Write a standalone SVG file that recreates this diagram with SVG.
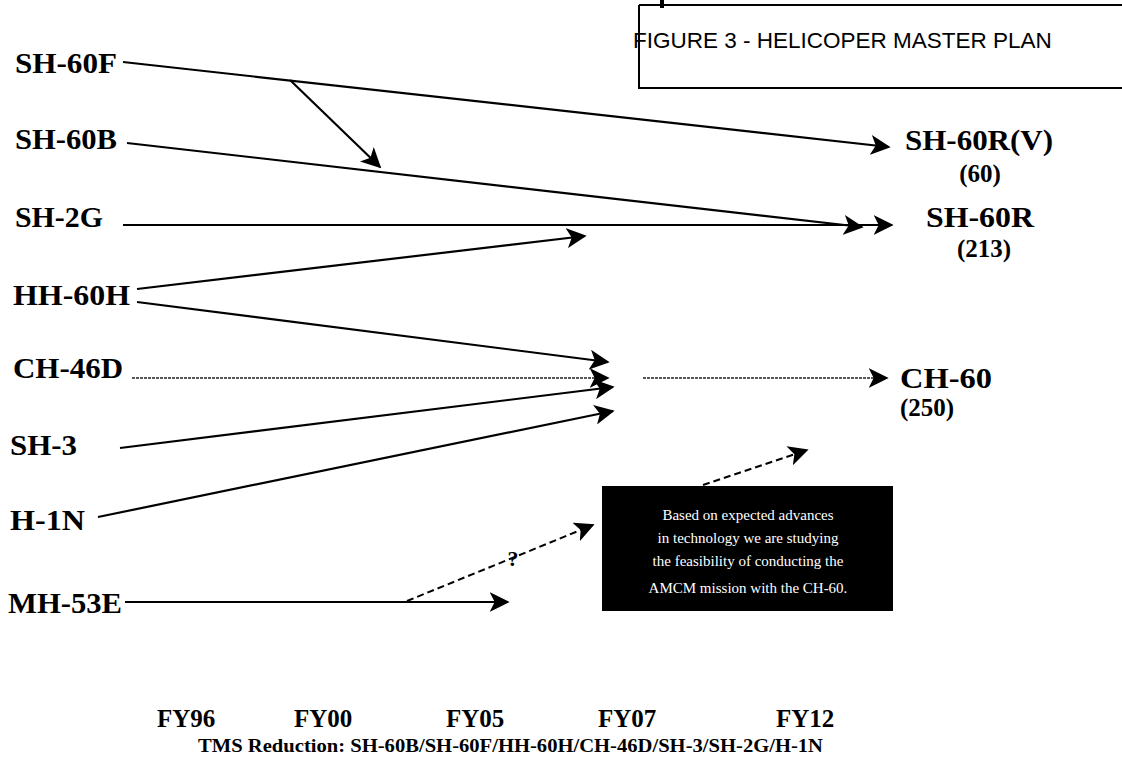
<svg xmlns="http://www.w3.org/2000/svg" width="1122" height="757" viewBox="0 0 1122 757">
<defs>
<style>
.lbl{font-family:"Liberation Serif","Times New Roman",serif;font-weight:bold;font-size:29px;fill:#000}
.sub{font-family:"Liberation Serif","Times New Roman",serif;font-weight:bold;font-size:25px;fill:#000}
.fy{font-family:"Liberation Serif","Times New Roman",serif;font-weight:bold;font-size:25px;fill:#000}
.note{font-family:"Liberation Serif","Times New Roman",serif;font-size:15px;fill:#fff}
.title{font-family:"Liberation Sans",Arial,sans-serif;font-size:22.5px;fill:#000}
.ln{stroke:#000;stroke-width:2.2;fill:none}
.thin{stroke:#222;stroke-width:1.3;fill:none;stroke-dasharray:3 1}
.dash{stroke:#000;stroke-width:2;fill:none;stroke-dasharray:7 4}
</style>
<marker id="ah" viewBox="0 0 12 12" refX="11" refY="6" markerWidth="20" markerHeight="20" markerUnits="userSpaceOnUse" orient="auto">
<path d="M0,0 L12,6 L0,12 L3,6 Z" fill="#000"/>
</marker>
</defs>
<rect width="1122" height="757" fill="#fff"/>

<g id="title">
<path d="M639,5 H1122 M639,5 V88 H1122" stroke="#000" stroke-width="2" fill="none"/>
<path d="M662,0 V8" stroke="#000" stroke-width="4"/>
<text class="title" x="633" y="48">FIGURE 3 - HELICOPER MASTER PLAN</text>
</g>

<g id="connectors">
<path class="ln" d="M123,62 L889,147" marker-end="url(#ah)"/>
<path class="ln" d="M290,80 L380,167" marker-end="url(#ah)"/>
<path class="ln" d="M127,143 L862,227" marker-end="url(#ah)"/>
<path class="ln" d="M123,225 L892,225" marker-end="url(#ah)"/>
<path class="ln" d="M137,289 L585,236" marker-end="url(#ah)"/>
<path class="ln" d="M137,302 L608,362" marker-end="url(#ah)"/>
<path class="thin" d="M132,378 L608,378" marker-end="url(#ah)"/>
<path class="ln" d="M120,448 L613,387" marker-end="url(#ah)"/>
<path class="ln" d="M98,517 L613,411" marker-end="url(#ah)"/>
<path class="thin" d="M643,378 L887,378" marker-end="url(#ah)"/>
<path class="ln" d="M125,602 L508,602" marker-end="url(#ah)"/>
<path class="dash" d="M407,601 L593,525" marker-end="url(#ah)"/>
<path class="dash" d="M703,485 L807,450" marker-end="url(#ah)"/>
<text x="513" y="566" font-family="Liberation Serif,serif" font-weight="bold" font-size="22" text-anchor="middle">?</text>
</g>

<g id="n-sh60f"><text class="lbl" x="15" y="73" textLength="102" lengthAdjust="spacingAndGlyphs">SH-60F</text></g>
<g id="n-sh60b"><text class="lbl" x="15" y="149" textLength="102" lengthAdjust="spacingAndGlyphs">SH-60B</text></g>
<g id="n-sh2g"><text class="lbl" x="15" y="227" textLength="88" lengthAdjust="spacingAndGlyphs">SH-2G</text></g>
<g id="n-hh60h"><text class="lbl" x="13" y="305" textLength="117" lengthAdjust="spacingAndGlyphs">HH-60H</text></g>
<g id="n-ch46d"><text class="lbl" x="13" y="378" textLength="110" lengthAdjust="spacingAndGlyphs">CH-46D</text></g>
<g id="n-sh3"><text class="lbl" x="10" y="455" textLength="67" lengthAdjust="spacingAndGlyphs">SH-3</text></g>
<g id="n-h1n"><text class="lbl" x="10" y="530" textLength="75" lengthAdjust="spacingAndGlyphs">H-1N</text></g>
<g id="n-mh53e"><text class="lbl" x="8" y="613" textLength="114" lengthAdjust="spacingAndGlyphs">MH-53E</text></g>

<g id="n-sh60rv">
<text class="lbl" x="905" y="150" textLength="148" lengthAdjust="spacingAndGlyphs">SH-60R(V)</text>
<text class="sub" x="980" y="182" text-anchor="middle">(60)</text>
</g>
<g id="n-sh60r">
<text class="lbl" x="926" y="227" textLength="108" lengthAdjust="spacingAndGlyphs">SH-60R</text>
<text class="sub" x="984" y="257" text-anchor="middle">(213)</text>
</g>
<g id="n-ch60">
<text class="lbl" x="900" y="388" textLength="92" lengthAdjust="spacingAndGlyphs">CH-60</text>
<text class="sub" x="900" y="416">(250)</text>
</g>

<g id="n-note">
<rect x="602" y="486" width="291" height="125" fill="#000"/>
<text class="note" x="748" y="520" text-anchor="middle">Based on expected advances</text>
<text class="note" x="748" y="543" text-anchor="middle">in technology we are studying</text>
<text class="note" x="748" y="566" text-anchor="middle">the feasibility of conducting the</text>
<text class="note" x="748" y="593" text-anchor="middle">AMCM mission with the CH-60.</text>
</g>

<g id="axis">
<text class="fy" x="157" y="727">FY96</text>
<text class="fy" x="294" y="727">FY00</text>
<text class="fy" x="446" y="727">FY05</text>
<text class="fy" x="598" y="727">FY07</text>
<text class="fy" x="776" y="727">FY12</text>
<text x="198" y="752" font-family="Liberation Serif,serif" font-weight="bold" font-size="19" textLength="625" lengthAdjust="spacingAndGlyphs">TMS Reduction: SH-60B/SH-60F/HH-60H/CH-46D/SH-3/SH-2G/H-1N</text>
</g>
</svg>
